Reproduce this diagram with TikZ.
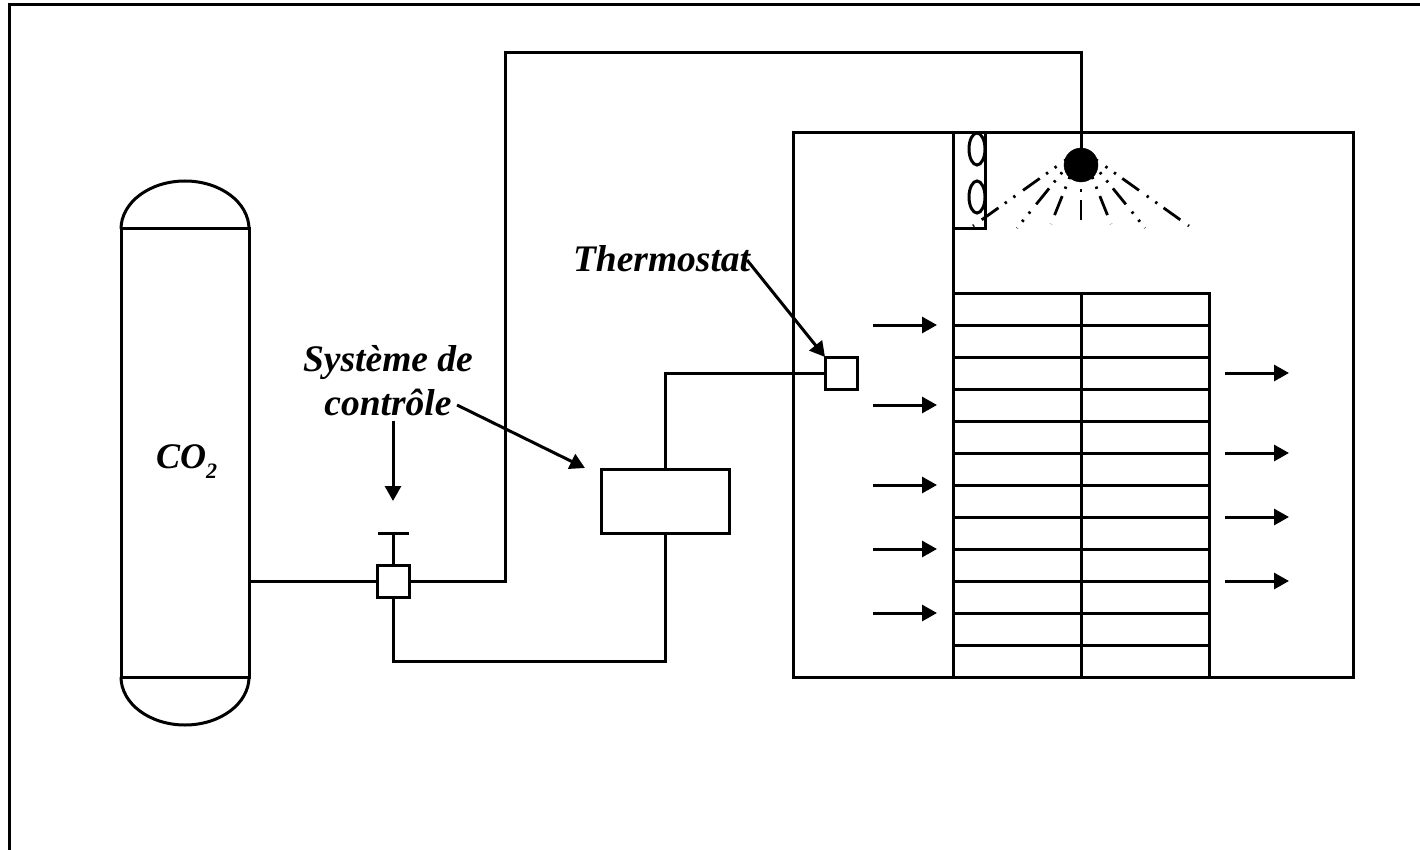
\documentclass[tikz,border=0pt]{standalone}
\usepackage{fontspec}
\setmainfont{Liberation Serif}
\usetikzlibrary{arrows.meta,shapes.geometric}
\tikzset{
  ln/.style={line width=3pt,black},
  box/.style={draw,ln,rectangle,inner sep=0pt,outer sep=0pt,fill=white},
  sq/.style={box,minimum width=32pt,minimum height=32pt},
  arr/.style={ln,-{Triangle[length=15pt,width=16pt]}},
  lab/.style={inner sep=0pt,outer sep=0pt,font=\bfseries\itshape\fontsize{37.5}{44}\selectfont},
  ray/.style={line width=2.8pt,dash pattern=on 20.5pt off 9.5pt on 2.4pt off 8.1pt on 2.4pt off 7.8pt},
}
\begin{document}
\begin{tikzpicture}[x=1pt,y=-1pt]
\useasboundingbox (0,0) rectangle (1420,850);
\fill[white] (0,0) rectangle (1420,850);
% outer frame
\coordinate (fBL) at (9.5,851);
\coordinate (fTL) at (9.5,5);
\coordinate (fTR) at (1421,5);
\draw[line width=3pt] (fBL) -- (fTL) -- (fTR);
% vessel
\node[box,fill=none,minimum width=128pt,minimum height=448pt] (vessel) at (185,453) {};
\draw[ln] (vessel.north west) arc[start angle=180,end angle=360,x radius=64,y radius=48];
\draw[ln] (vessel.south west) arc[start angle=180,end angle=0,x radius=64,y radius=48];
\node[inner sep=0pt,outer sep=0pt,anchor=base west,font=\bfseries\itshape\fontsize{36}{40}\selectfont] (co2) at (156,468) {CO\raisebox{-10pt}{\fontsize{22}{22}\selectfont 2}};
% room
\node[box,fill=none,minimum width=560pt,minimum height=544pt] (room) at (1073,405) {};
% evaporator grid
\node[box,fill=none,minimum width=256pt,minimum height=384pt] (grid) at (1081,485) {};
\foreach \y in {325,357,389,421,453,485,517,549,581,613,645}
  \draw[ln] (953,\y) -- (1209,\y);
\draw[ln] (grid.north) -- (grid.south);
\draw[ln] (grid.north west) -- (grid.north west |- room.north);
% fan box
\node[box,fill=none,minimum width=32pt,minimum height=96pt] (fan) at (969,181) {};
\node[draw,ln,ellipse,inner sep=0pt,minimum width=16pt,minimum height=32pt] (e1) at (977,149) {};
\node[draw,ln,ellipse,inner sep=0pt,minimum width=16pt,minimum height=32pt] (e2) at (977,197) {};
% spray
\coordinate (rayO) at (1081,149);
\foreach \n/\x/\y in {a/973/226,b/1017/228,c/1051/224,d/1081/220,e/1111/224,f/1145/228,g/1189/226}{
  \coordinate (ray\n) at (\x,\y);
  \draw[ray] (rayO) -- (ray\n);
}
\node[circle,fill=black,draw=black,inner sep=0pt,minimum size=34pt] (nozzle) at (1081,165) {};
% valve
\node[sq] (valve) at (393,581) {};
\coordinate (tL) at (378,533);
\coordinate (tR) at (409,533);
\coordinate (tM) at (393,533);
\draw[ln] (tL) -- (tR);
\draw[ln] (tM) -- (valve.north);
\draw[ln] (vessel.east |- valve.west) -- (valve.west);
% controller and thermostat
\node[box,minimum width=128pt,minimum height=64pt] (ctrl) at (665,501) {};
\node[sq] (thermo) at (841,373) {};
% pipes
\coordinate (p1) at (505,53);
\draw[ln] (valve.east) -| (p1) -| (nozzle.north);
\coordinate (p2) at (393,661);
\draw[ln] (valve.south) -- (p2) -| (ctrl.south);
\draw[ln] (ctrl.north) |- (thermo.west);
% labels
\node[lab,align=center] (sys) at (388,381) {Système de\\contrôle};
\node[lab,anchor=base west] (th) at (573,271) {Thermostat};
\coordinate (a1s) at (393,421); \coordinate (a1e) at (393,501);
\coordinate (a2s) at (457,405); \coordinate (a2e) at (585,468);
\coordinate (a3s) at (747,260);
\draw[arr] (a1s) -- (a1e);
\draw[arr] (a2s) -- (a2e);
\draw[arr] (a3s) -- (thermo.north west);
% air arrows
\foreach \y in {325,405,485,549,613}{
  \coordinate (ls) at (873,\y); \coordinate (le) at (937,\y);
  \draw[arr] (ls) -- (le);
}
\foreach \y in {373,453,517,581}{
  \coordinate (rs) at (1225,\y); \coordinate (re) at (1289,\y);
  \draw[arr] (rs) -- (re);
}
\end{tikzpicture}
\end{document}
